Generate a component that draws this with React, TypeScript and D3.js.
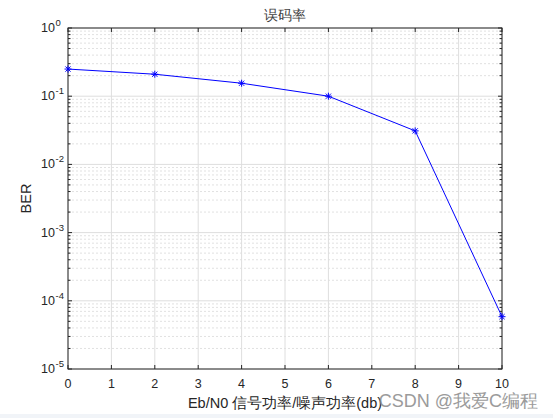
import React from "react";
import * as d3 from "d3";

const xValues = [0, 2, 4, 6, 8, 10];
const berValues = [0.25, 0.21, 0.155, 0.1, 0.031, 0.0000585];
const xTicks = [0, 1, 2, 3, 4, 5, 6, 7, 8, 9, 10];
const yExponents = [0, -1, -2, -3, -4, -5];
const titleText = "误码率";
const xLabel = "Eb/N0 信号功率/噪声功率(db)";
const yLabel = "BER";
const watermark = "CSDN @我爱C编程";

const W = 553, H = 418;
const L = 68, R = 502, T = 28, B = 369;
const font = "Helvetica, Arial, 'Liberation Sans', sans-serif";

export default function App() {
  const x = d3.scaleLinear().domain([0, 10]).range([L, R]);
  const y = d3.scaleLog().domain([1e-5, 1]).range([B, T]);
  const minors: number[] = [];
  for (let e = -5; e < 0; e++) {
    for (let m = 2; m <= 9; m++) minors.push(m * Math.pow(10, e));
  }
  const line = d3.line<number>().x((_, i) => x(xValues[i])).y((d) => y(d));
  const ink = "#262626";
  return (
    <svg width={W} height={H} style={{ position: "absolute", left: 0, top: 0, background: "#fff" }}>
      <rect x={0} y={0} width={W} height={H} fill="#fff" />
      <rect x={0} y={414} width={W} height={4} fill="#f1f4f8" />
      <rect x={L} y={T} width={R - L} height={B - T} fill="#fff" />
      {/* minor grid */}
      {minors.map((v, i) => (
        <line key={"mg" + i} x1={L} x2={R} y1={y(v)} y2={y(v)} stroke="#d9d9d9" strokeWidth={0.8} strokeDasharray="2,2" />
      ))}
      {/* major grid */}
      {xTicks.map((t) => (
        <line key={"gx" + t} x1={x(t)} x2={x(t)} y1={T} y2={B} stroke="#dedede" strokeWidth={1} />
      ))}
      {yExponents.map((e) => (
        <line key={"gy" + e} x1={L} x2={R} y1={y(Math.pow(10, e))} y2={y(Math.pow(10, e))} stroke="#dedede" strokeWidth={1} />
      ))}
      {/* axes box */}
      <rect x={L} y={T} width={R - L} height={B - T} fill="none" stroke={ink} strokeWidth={1} />
      {/* x ticks */}
      {xTicks.map((t) => (
        <g key={"xt" + t}>
          <line x1={x(t)} x2={x(t)} y1={B} y2={B - 4} stroke={ink} />
          <line x1={x(t)} x2={x(t)} y1={T} y2={T + 4} stroke={ink} />
          <text x={x(t)} y={388} textAnchor="middle" fontFamily={font} fontSize={12.5} fill={ink}>{t}</text>
        </g>
      ))}
      {/* y ticks */}
      {yExponents.map((e) => {
        const yy = y(Math.pow(10, e));
        return (
          <g key={"yt" + e}>
            <line x1={L} x2={L + 4} y1={yy} y2={yy} stroke={ink} />
            <line x1={R} x2={R - 4} y1={yy} y2={yy} stroke={ink} />
            <text x={55} y={yy + 4} textAnchor="end" fontFamily={font} fontSize={12.5} fill={ink}>10</text>
            <text x={55.5} y={yy - 2} textAnchor="start" fontFamily={font} fontSize={9.5} fill={ink}>{e}</text>
          </g>
        );
      })}
      {minors.map((v, i) => (
        <g key={"mt" + i}>
          <line x1={L} x2={L + 2.5} y1={y(v)} y2={y(v)} stroke={ink} />
          <line x1={R} x2={R - 2.5} y1={y(v)} y2={y(v)} stroke={ink} />
        </g>
      ))}
      {/* data line */}
      <path d={line(berValues) || ""} fill="none" stroke="#0000ff" strokeWidth={1} />
      {berValues.map((v, i) => {
        const cx = x(xValues[i]), cy = y(v), r = 3.5, d = 2.6;
        return (
          <g key={"m" + i} stroke="#0000ff" strokeWidth={1}>
            <line x1={cx - r} x2={cx + r} y1={cy} y2={cy} />
            <line x1={cx} x2={cx} y1={cy - r} y2={cy + r} />
            <line x1={cx - d} x2={cx + d} y1={cy - d} y2={cy + d} />
            <line x1={cx - d} x2={cx + d} y1={cy + d} y2={cy - d} />
          </g>
        );
      })}
      {/* labels */}
      <text x={(L + R) / 2} y={20} textAnchor="middle" fontFamily={font} fontSize={14} fill="#404040">{titleText}</text>
      <text x={285} y={408} textAnchor="middle" fontFamily={font} fontSize={14.5} fill={ink}>{xLabel}</text>
      <text transform={`translate(31,${(T + B) / 2}) rotate(-90)`} textAnchor="middle" fontFamily={font} fontSize={14.5} fill={ink}>{yLabel}</text>
      <text x={538} y={407} textAnchor="end" fontFamily={font} fontSize={18} fill="#8a8a8a" opacity={0.85}>{watermark}</text>
    </svg>
  );
}
